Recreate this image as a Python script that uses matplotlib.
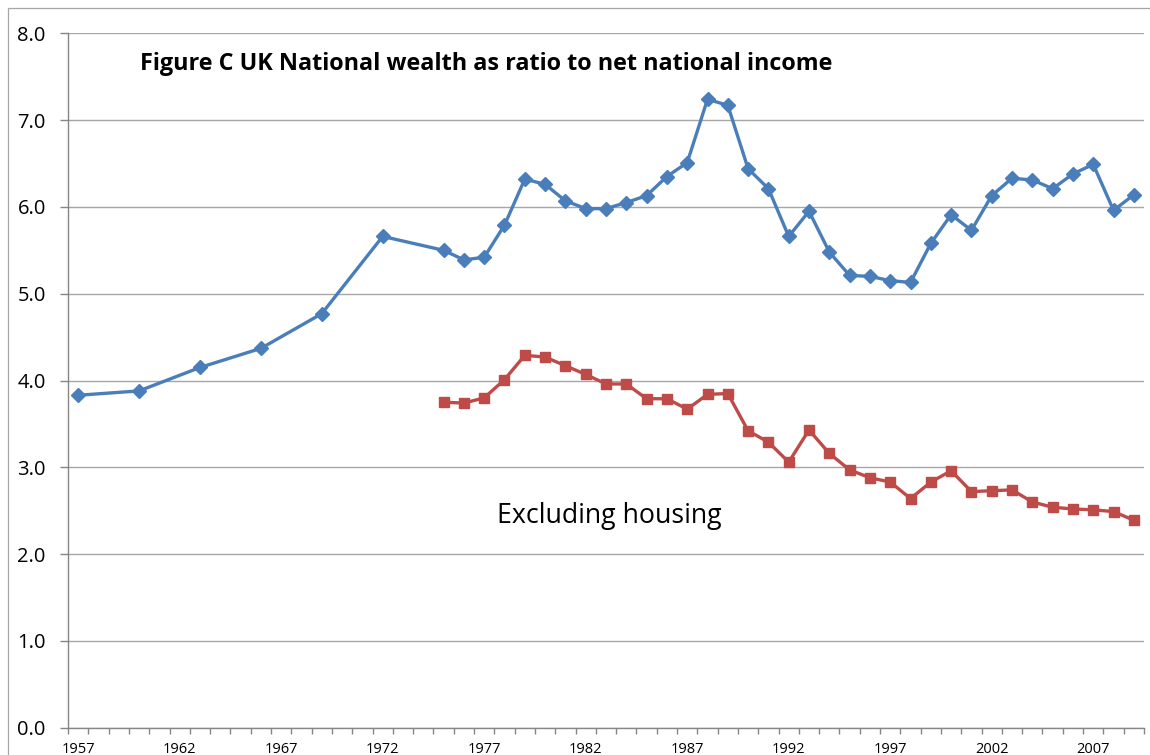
import matplotlib
matplotlib.use("Agg")
import matplotlib.pyplot as plt
from matplotlib.patches import Rectangle
from matplotlib.ticker import FixedLocator, NullFormatter

plt.rcParams['font.family'] = ['Open Sans', 'DejaVu Sans']

# Total national wealth / NNI
total_years = [1957, 1960, 1963, 1966, 1969, 1972] + list(range(1975, 2010))
total_vals = [3.83, 3.88, 4.15, 4.37, 4.77, 5.66,
              5.50, 5.39, 5.42, 5.79, 6.32, 6.26, 6.07, 5.98, 5.98, 6.05,
              6.13, 6.35, 6.51, 7.24, 7.17, 6.44, 6.21, 5.66, 5.95, 5.48,
              5.21, 5.20, 5.15, 5.13, 5.58, 5.91, 5.73, 6.13, 6.33, 6.31,
              6.21, 6.38, 6.49, 5.96, 6.14]

# Excluding housing
excl_years = list(range(1975, 2010))
excl_vals = [3.75, 3.74, 3.80, 4.01, 4.29, 4.27, 4.17, 4.07, 3.96, 3.96,
             3.79, 3.79, 3.67, 3.84, 3.85, 3.42, 3.29, 3.06, 3.43, 3.16,
             2.97, 2.88, 2.83, 2.64, 2.83, 2.96, 2.72, 2.73, 2.74, 2.60,
             2.54, 2.52, 2.51, 2.49, 2.39]

xtick_years = list(range(1957, 2008, 5))
ytick_vals = [0, 1, 2, 3, 4, 5, 6, 7, 8]

title_text = "Figure C UK National wealth as ratio to net national income"
series_label = "Excluding housing"

W, H = 1150, 755
fig = plt.figure(figsize=(W / 100, H / 100), dpi=100)
ax = fig.add_axes([68 / W, (H - 727.7) / H, (1144 - 68) / W, (727.7 - 33.3) / H])

# outer chart frame
fig.patches.append(Rectangle((8 / W, -0.1), 1.2, (H - 8) / H + 0.1, transform=fig.transFigure,
                             fill=False, edgecolor='#a6a6a6', linewidth=0.9))

blue = '#4A7EBB'
red = '#BE4B48'
ax.plot(total_years, total_vals, color=blue, lw=2.4, marker='D', ms=7.5,
        mec=blue, mfc=blue, zorder=3, solid_joinstyle='round')
ax.plot(excl_years, excl_vals, color=red, lw=2.4, marker='s', ms=7,
        mec=red, mfc=red, zorder=3, solid_joinstyle='round')

ax.set_xlim(1956.5, 2009.5)
ax.set_ylim(0, 8)

ax.yaxis.grid(True, color='#a6a6a6', lw=1.0)
ax.set_axisbelow(True)
for s in ['top', 'right']:
    ax.spines[s].set_visible(False)
for s in ['left', 'bottom']:
    ax.spines[s].set_color('#868686')
    ax.spines[s].set_linewidth(1.0)

ax.set_yticks(ytick_vals)
ax.set_yticklabels([f"{v:.1f}" for v in ytick_vals], fontsize=14.5)
ax.tick_params(axis='y', direction='out', length=6, width=1.0, color='#868686', pad=10)

ax.set_xticks(xtick_years)
ax.set_xticklabels([str(y) for y in xtick_years], fontsize=10.5)
ax.tick_params(axis='x', which='major', length=0, pad=10)
ax.xaxis.set_minor_locator(FixedLocator([y + 0.5 for y in range(1956, 2010)]))
ax.xaxis.set_minor_formatter(NullFormatter())
ax.tick_params(axis='x', which='minor', direction='out', length=4, width=1.0, color='#868686')

fig.text(140 / W, (H - 69.5) / H, title_text, fontsize=16.8, fontweight='bold',
         ha='left', va='baseline', color='black')
fig.text(497 / W, (H - 523.3) / H, series_label, fontsize=19.3,
         ha='left', va='baseline', color='black')

fig.savefig('out.png', dpi=100)
